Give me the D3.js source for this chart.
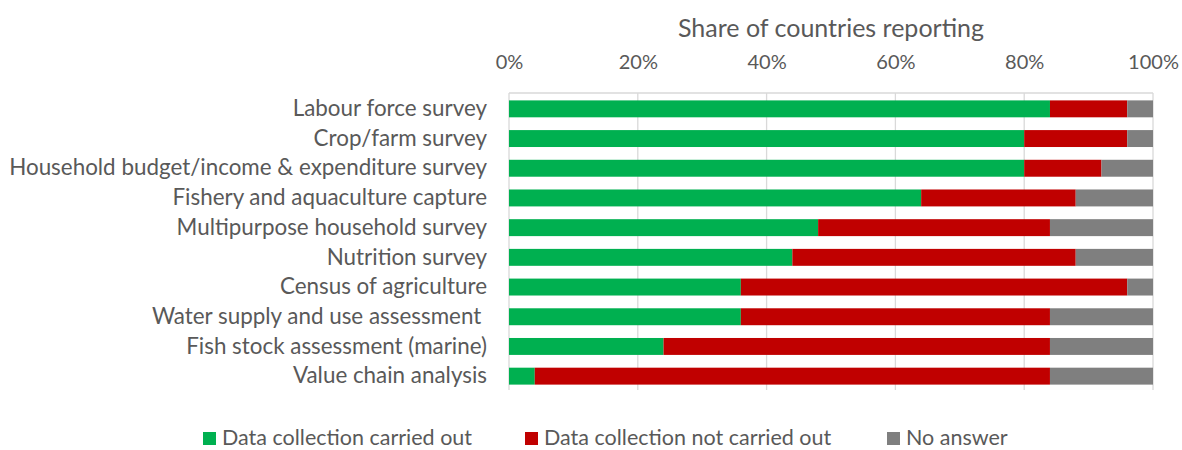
<!DOCTYPE html>
<html>
<head>
<meta charset="utf-8">
<script src="https://cdn.jsdelivr.net/npm/d3@7"></script>
<style>
  html, body { margin: 0; padding: 0; background: #fff; }
  svg text { font-family: Lato, "Open Sans", sans-serif; fill: #595959; }
</style>
</head>
<body>
<svg id="chart" width="1182" height="450"></svg>
<script>
// Survey types, top to bottom
const categories = [
  "Labour force survey",
  "Crop/farm survey",
  "Household budget/income & expenditure survey",
  "Fishery and aquaculture capture",
  "Multipurpose household survey",
  "Nutrition survey",
  "Census of agriculture",
  "Water supply and use assessment ",
  "Fish stock assessment (marine)",
  "Value chain analysis"
];
// Share of countries (%) per response
const carriedOut    = [84, 80, 80, 64, 48, 44, 36, 36, 24, 4];
const notCarriedOut = [12, 16, 12, 24, 36, 44, 60, 48, 60, 80];
const noAnswer      = [4, 4, 8, 12, 16, 12, 4, 16, 16, 16];

const seriesNames = ["Data collection carried out", "Data collection not carried out", "No answer"];
const seriesColors = ["#00B050", "#C00000", "#7F7F7F"];
const tickValues = [0, 20, 40, 60, 80, 100];

const rows = categories.map((c, i) => ({
  category: c, a: carriedOut[i], b: notCarriedOut[i], c: noAnswer[i]
}));
const stack = d3.stack().keys(["a", "b", "c"])(rows);

const svg = d3.select("#chart");
const plotLeft = 509, plotRight = 1153, plotTop = 94, plotBottom = 391;

const x = d3.scaleLinear().domain([0, 100]).range([plotLeft, plotRight]);
const y = d3.scaleBand().domain(categories).range([plotTop, plotBottom]).paddingInner(0.43).paddingOuter(0.215);

// vertical gridlines
svg.append("g")
  .selectAll("line")
  .data(tickValues)
  .join("line")
  .attr("x1", d => x(d)).attr("x2", d => x(d))
  .attr("y1", plotTop - 1).attr("y2", plotBottom - 1)
  .attr("stroke", "#D9D9D9").attr("stroke-width", 1.3);

// axis line along the top of the plot
svg.append("line")
  .attr("x1", x(0)).attr("x2", x(100))
  .attr("y1", plotTop - 1).attr("y2", plotTop - 1)
  .attr("stroke", "#D9D9D9").attr("stroke-width", 1.3);

// top axis labels
const xAxis = d3.axisTop(x).tickValues(tickValues).tickFormat(d => d + "%").tickSize(0).tickPadding(0);
const ax = svg.append("g").attr("transform", `translate(0,69)`).call(xAxis);
ax.select(".domain").remove();
ax.selectAll("text").style("font-size", "20px").style("font-family", "Lato, sans-serif").attr("fill", "#595959");

// axis title
svg.append("text")
  .attr("x", 831).attr("y", 37)
  .attr("text-anchor", "middle")
  .style("font-size", "25px")
  .text("Share of countries reporting");

// stacked bars
svg.append("g")
  .selectAll("g")
  .data(stack)
  .join("g")
  .attr("fill", (d, i) => seriesColors[i])
  .selectAll("rect")
  .data(d => d)
  .join("rect")
  .attr("x", d => x(d[0]))
  .attr("width", d => x(d[1]) - x(d[0]))
  .attr("y", d => y(d.data.category))
  .attr("height", y.bandwidth());

// category labels (trailing spaces kept)
const yAxis = d3.axisLeft(y).tickSize(0).tickPadding(22);
const ay = svg.append("g").attr("transform", `translate(${plotLeft},0)`).call(yAxis);
ay.select(".domain").remove();
ay.selectAll("text")
  .style("font-size", "22.4px")
  .style("font-family", "Lato, sans-serif")
  .style("white-space", "pre")
  .attr("fill", "#595959");

// legend
const legendX = [203, 525, 887];
const lg = svg.append("g").selectAll("g")
  .data(seriesNames)
  .join("g")
  .attr("transform", (d, i) => `translate(${legendX[i]},432)`);
lg.append("rect").attr("width", 13).attr("height", 13).attr("fill", (d, i) => seriesColors[i]);
lg.append("text").attr("x", 19).attr("y", 13).style("font-size", "21.5px").text(d => d);
</script>
</body>
</html>
